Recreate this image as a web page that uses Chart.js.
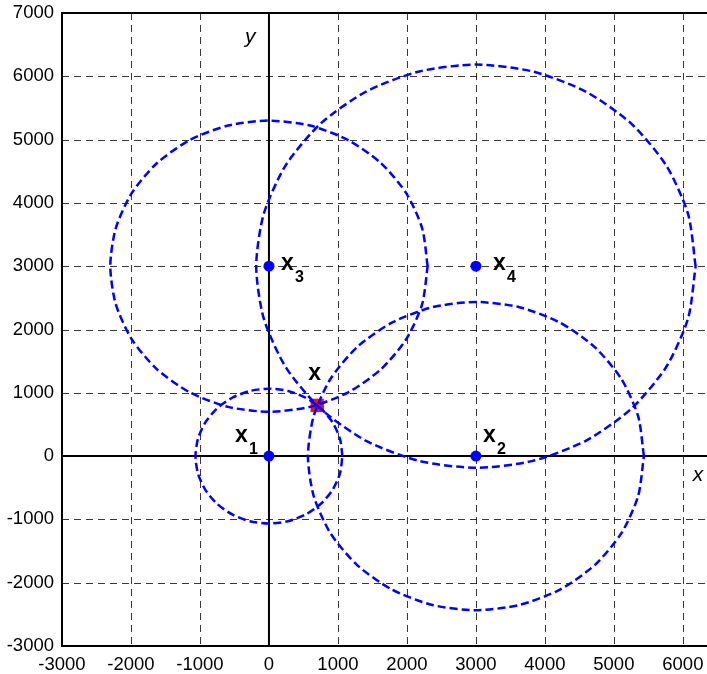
<!DOCTYPE html>
<html>
<head>
<meta charset="utf-8">
<script src="https://cdn.jsdelivr.net/npm/chart.js@4"></script>
<style>
  html, body { margin: 0; padding: 0; background: #fff; }
  canvas { display: block; }
</style>
</head>
<body>
<canvas id="c" width="707" height="674" style="width:707px;height:674px"></canvas>
<script>
// ---- data ----
const circle1 = [[1065,0],[1029,276],[922,533],[753,753],[533,922],[276,1029],[0,1065],[-276,1029],[-533,922],[-753,753],[-922,533],[-1029,276],[-1065,0],[-1029,-276],[-922,-533],[-753,-753],[-533,-922],[-276,-1029],[0,-1065],[276,-1029],[533,-922],[753,-753],[922,-533],[1029,-276],[1065,0]];
const circle2 = [[5435,0],[5352,630],[5109,1218],[4722,1722],[4218,2109],[3630,2352],[3000,2435],[2370,2352],[1782,2109],[1278,1722],[891,1218],[648,630],[565,0],[648,-630],[891,-1218],[1278,-1722],[1782,-2109],[2370,-2352],[3000,-2435],[3630,-2352],[4218,-2109],[4722,-1722],[5109,-1218],[5352,-630],[5435,0]];
const circle3 = [[2300,3000],[2222,3595],[1992,4150],[1626,4626],[1150,4992],[595,5222],[0,5300],[-595,5222],[-1150,4992],[-1626,4626],[-1992,4150],[-2222,3595],[-2300,3000],[-2222,2405],[-1992,1850],[-1626,1374],[-1150,1008],[-595,778],[0,700],[595,778],[1150,1008],[1626,1374],[1992,1850],[2222,2405],[2300,3000]];
const circle4 = [[6185,3000],[6076,3824],[5758,4593],[5252,5252],[4593,5758],[3824,6076],[3000,6185],[2176,6076],[1407,5758],[748,5252],[242,4593],[-76,3824],[-185,3000],[-76,2176],[242,1407],[748,748],[1407,242],[2176,-76],[3000,-185],[3824,-76],[4593,242],[5252,748],[5758,1407],[6076,2176],[6185,3000]];
const anchorX = [0, 3000, 0, 3000];
const anchorY = [0, 0, 3000, 3000];
const anchorNames = ['1', '2', '3', '4'];
const estimateX = [700];
const estimateY = [800];
const xRange = [-3000, 6350];
const yRange = [-3000, 7000];
const xTicks = [-3000, -2000, -1000, 0, 1000, 2000, 3000, 4000, 5000, 6000];
const yTicks = [-3000, -2000, -1000, 0, 1000, 2000, 3000, 4000, 5000, 6000, 7000];
const axisNames = ['x', 'y'];

// ---- chart ----
const toPts = arr => arr.map(p => ({x: p[0], y: p[1]}));
const circleStyle = {
  showLine: true, pointRadius: 0, pointHoverRadius: 0,
  borderColor: '#0000ff', borderWidth: 2.5, borderDash: [8, 4],
  fill: false, tension: 0.25
};

const framePlugin = {
  id: 'frame',
  beforeDatasetsDraw(chart) {
    const {ctx, chartArea: a, scales: {x, y}} = chart;
    ctx.save();
    ctx.lineWidth = 1;
    ctx.strokeStyle = 'rgba(0,0,0,0.78)';
    ctx.setLineDash([7, 5]);
    x.ticks.forEach(t => {
      if (t.value === xRange[0] || t.value === 0) return;
      const px = Math.round(x.getPixelForValue(t.value)) + 0.5;
      ctx.beginPath(); ctx.moveTo(px, a.top); ctx.lineTo(px, a.bottom); ctx.stroke();
    });
    y.ticks.forEach(t => {
      if (t.value === yRange[0] || t.value === yRange[1] || t.value === 0) return;
      const py = Math.round(y.getPixelForValue(t.value)) + 0.5;
      ctx.beginPath(); ctx.moveTo(a.left, py); ctx.lineTo(a.right, py); ctx.stroke();
    });
    ctx.setLineDash([]);
    ctx.strokeStyle = '#000';
    ctx.lineWidth = 2;
    const x0 = x.getPixelForValue(0), y0 = y.getPixelForValue(0);
    ctx.beginPath(); ctx.moveTo(x0, a.top); ctx.lineTo(x0, a.bottom); ctx.stroke();
    ctx.beginPath(); ctx.moveTo(a.left, y0); ctx.lineTo(a.right, y0); ctx.stroke();
    // frame: left, top, bottom
    ctx.beginPath();
    ctx.moveTo(a.right + 2, a.top); ctx.lineTo(a.left, a.top);
    ctx.lineTo(a.left, a.bottom); ctx.lineTo(a.right + 2, a.bottom);
    ctx.stroke();
    ctx.restore();
  },
  afterDatasetsDraw(chart) {
    const {ctx, scales: {x, y}} = chart;
    ctx.save();
    ctx.fillStyle = '#000';
    ctx.textBaseline = 'alphabetic';
    ctx.textAlign = 'left';
    const big = "bold 23px 'Liberation Sans', Arial, sans-serif";
    const sub = "bold 16px 'Liberation Sans', Arial, sans-serif";
    const offs = [[-34, -14], [7, -14], [12, 4], [17, 4]];
    anchorX.forEach((ax, i) => {
      const px = x.getPixelForValue(ax), py = y.getPixelForValue(anchorY[i]);
      const [dx, dy] = offs[i];
      ctx.font = big; ctx.fillText('x', px + dx, py + dy);
      ctx.font = sub; ctx.fillText(anchorNames[i], px + dx + 14, py + dy + 12);
    });
    const ex = x.getPixelForValue(estimateX[0]), ey = y.getPixelForValue(estimateY[0]);
    ctx.font = big; ctx.fillText('x', ex - 9, ey - 25);
    ctx.font = "italic 21px 'Liberation Sans', Arial, sans-serif";
    const a = chart.chartArea;
    ctx.fillText(axisNames[1], x.getPixelForValue(0) - 24, a.top + 30);
    ctx.fillText(axisNames[0], x.getPixelForValue(6000) + 10, y.getPixelForValue(0) + 25);
    ctx.restore();
  }
};

const tickFont = {family: "'Liberation Sans', Arial, sans-serif", size: 18.5};
const noPad = s => { s.paddingTop = 0; s.paddingBottom = 0; s.paddingLeft = 0; s.paddingRight = 0; };

new Chart(document.getElementById('c'), {
  type: 'scatter',
  data: {
    datasets: [
      Object.assign({data: toPts(circle1)}, circleStyle),
      Object.assign({data: toPts(circle2)}, circleStyle),
      Object.assign({data: toPts(circle3)}, circleStyle),
      Object.assign({data: toPts(circle4)}, circleStyle),
      {
        data: anchorX.map((v, i) => ({x: v, y: anchorY[i]})),
        pointRadius: 5.5, pointStyle: 'circle',
        backgroundColor: '#0000ff', borderColor: '#0000ff', borderWidth: 0
      },
      {
        data: estimateX.map((v, i) => ({x: v, y: estimateY[i]})),
        pointRadius: 9.5, pointStyle: 'rect',
        backgroundColor: '#ee1122', borderColor: '#ee1122', borderWidth: 0
      }
    ]
  },
  options: {
    responsive: false,
    animation: false,
    devicePixelRatio: 1,
    layout: {autoPadding: false, padding: {top: 13, left: 0, right: 0, bottom: 0}},
    plugins: {legend: {display: false}, tooltip: {enabled: false}},
    events: [],
    scales: {
      x: {
        type: 'linear', min: xRange[0], max: xRange[1],
        grid: {display: false, drawTicks: false},
        border: {display: false},
        ticks: {autoSkip: false, maxRotation: 0,
                color: '#000', font: tickFont, padding: 8, callback: v => String(v)},
        afterBuildTicks: s => { s.ticks = xTicks.map(v => ({value: v})); },
        afterFit: s => { s.height = 28; noPad(s); }
      },
      y: {
        type: 'linear', min: yRange[0], max: yRange[1],
        grid: {display: false, drawTicks: false},
        border: {display: false},
        ticks: {autoSkip: false,
                color: '#000', font: tickFont, padding: 8, callback: v => String(v)},
        afterBuildTicks: s => { s.ticks = yTicks.map(v => ({value: v})); },
        afterFit: s => { s.width = 62; noPad(s); }
      }
    }
  },
  plugins: [framePlugin]
});
</script>
</body>
</html>
